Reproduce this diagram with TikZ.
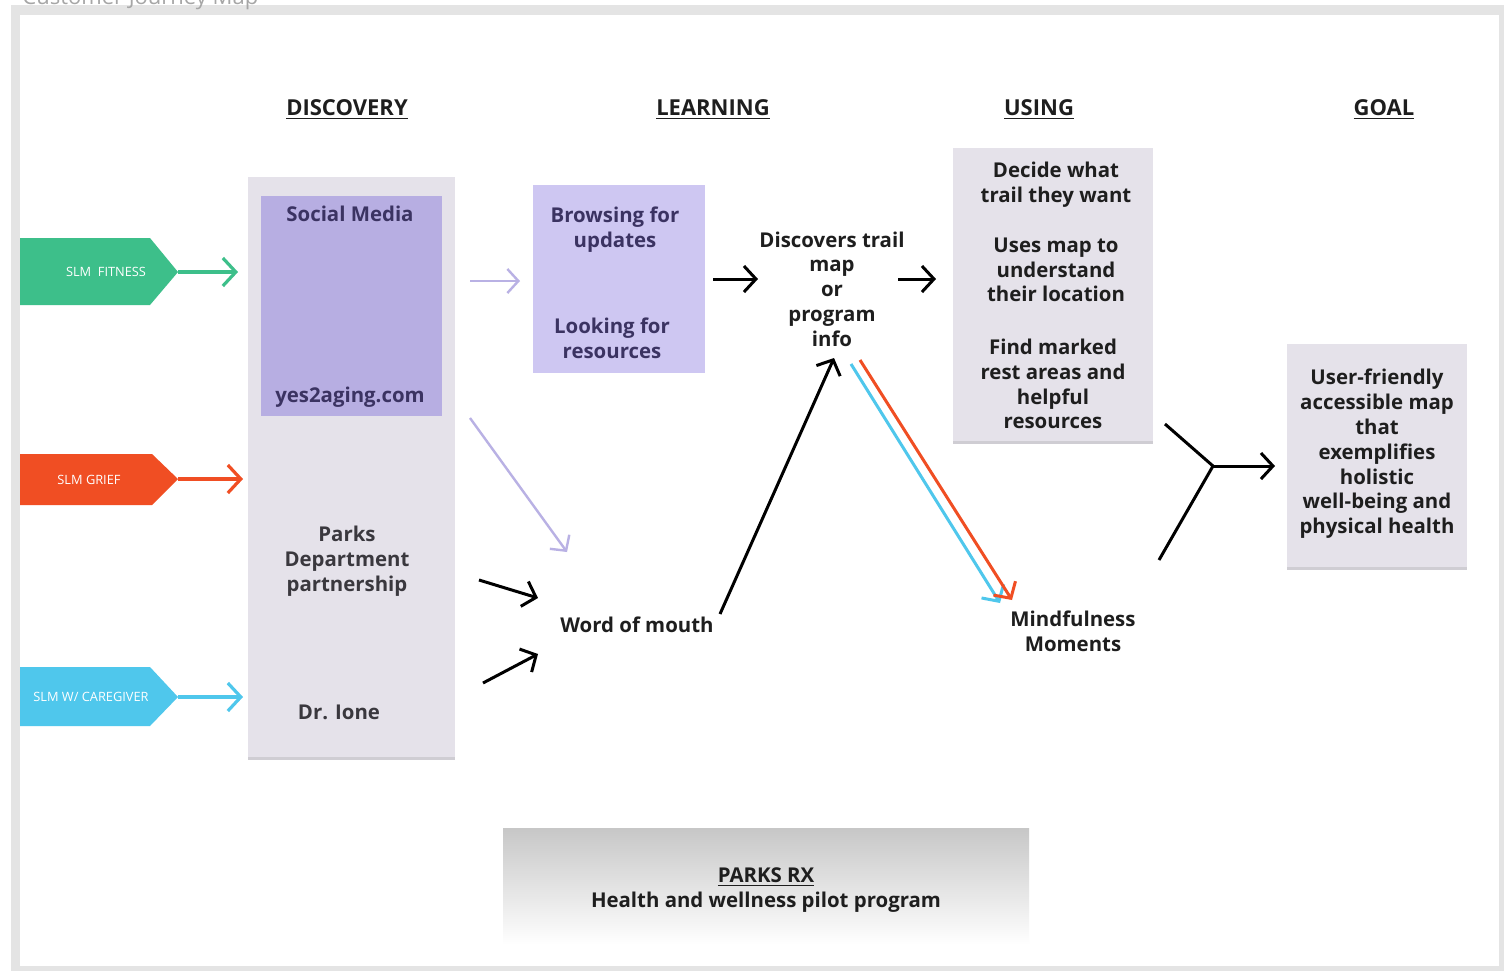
\documentclass[tikz,border=0pt]{standalone}
\usepackage{fontspec}
\setmainfont{Open Sans}
\usetikzlibrary{arrows.meta}

\definecolor{framegray}{HTML}{E4E4E4}
\definecolor{panel}{HTML}{E5E2EA}
\definecolor{panelshadow}{HTML}{CFCDD3}
\definecolor{mediapurple}{HTML}{B7AEE2}
\definecolor{learnpurple}{HTML}{CEC7F2}
\definecolor{lightarrow}{HTML}{B9B1E4}
\definecolor{fitgreen}{HTML}{3DBF8A}
\definecolor{griefred}{HTML}{F04E23}
\definecolor{careblue}{HTML}{4FC7EC}
\definecolor{inkdark}{HTML}{1E1E1E}
\definecolor{inkpurple}{HTML}{3B3362}
\definecolor{inkgray}{HTML}{3A383E}

\tikzset{
  lbl/.style={font=\bfseries\fontsize{10.2}{12.4}\selectfont, text=inkdark, align=center, inner sep=0pt},
  head/.style={font=\bfseries\fontsize{11}{12}\selectfont, text=inkdark, inner sep=0pt},
  taglbl/.style={font=\fontsize{6.4}{7}\selectfont, text=white, inner sep=0pt},
  flow/.style={line width=1.5pt, -{Straight Barb[length=6pt,width=13pt,line width=1.5pt]}},
  tagflow/.style={line width=1.6pt, -{Straight Barb[length=6.5pt,width=14pt,line width=1.6pt]}},
  thin/.style={line width=1.2pt, -{Straight Barb[length=5.5pt,width=12pt,line width=1.2pt]}},
}

\begin{document}
\begin{tikzpicture}[x=0.5pt,y=-0.5pt]
\useasboundingbox (0,0) rectangle (1511,971);

% page frame
\fill[white] (0,0) rectangle (1511,971);
\fill[framegray] (11,5) rectangle (1504,971);
\fill[white] (20,15) rectangle (1499,966);
\node[anchor=base west, inner sep=0pt, text=gray!70, font=\fontsize{11}{12}\selectfont] (title) at (22,4) {Customer Journey Map};

% column headings
\node[head] (hdisc) at (347,110) {\underline{DISCOVERY}};
\node[head] (hlearn) at (713,110) {\underline{LEARNING}};
\node[head] (huse) at (1039,110) {\underline{USING}};
\node[head] (hgoal) at (1384,110) {\underline{GOAL}};

% entry tags
\fill[fitgreen] (20,238) -- (150,238) -- (178,272) -- (150,305) -- (20,305) -- cycle;
\node[taglbl] (fit) at (106,272) {SLM\ \ FITNESS};
\coordinate (fitTip) at (178,272);
\coordinate (fitEnd) at (238,272);
\draw[tagflow, fitgreen] (fitTip) -- (fitEnd);

\fill[griefred] (20,454) -- (152,454) -- (178,479) -- (152,505) -- (20,505) -- cycle;
\node[taglbl] (grief) at (89,480) {SLM GRIEF};
\coordinate (griefTip) at (178,479);
\coordinate (griefEnd) at (243,479);
\draw[tagflow, griefred] (griefTip) -- (griefEnd);

\fill[careblue] (20,667) -- (150,667) -- (178,697) -- (150,726) -- (20,726) -- cycle;
\node[taglbl] (care) at (91,697) {SLM W/ CAREGIVER};
\coordinate (careTip) at (178,697);
\coordinate (careEnd) at (243,697);
\draw[tagflow, careblue] (careTip) -- (careEnd);

% discovery column
\fill[panelshadow] (248,180) rectangle (455,760);
\fill[panel] (248,177) rectangle (455,757);
\fill[mediapurple] (261,196) rectangle (442,416);
\node[lbl, text=inkpurple] (social) at (350,214) {Social Media};
\node[lbl, text=inkpurple] (yes) at (350,397) {yes2aging.com};
\node[lbl, text=inkgray] (parks) at (347,561) {Parks\\Department\\partnership};
\node[lbl, text=inkgray] (ione) at (339,712) {Dr. Ione};

% learning box
\fill[learnpurple] (533,185) rectangle (705,373);
\node[lbl, text=inkpurple] (browse) at (615,230) {Browsing for\\updates};
\node[lbl, text=inkpurple] (look) at (612,338) {Looking for\\resources};

% middle nodes
\node[lbl] (trail) at (832,289) {Discovers trail\\map\\or\\program\\info};
\node[lbl] (word) at (637,625) {Word of mouth};
\node[lbl] (mind) at (1073,631) {Mindfulness\\Moments};

% using box
\fill[panelshadow] (953,151) rectangle (1153,444);
\fill[panel] (953,148) rectangle (1153,441);
\node[lbl] (decide) at (1056,185) {Decide what\\trail they want};
\node[lbl] (usesmap) at (1056,270) {Uses map to\\understand\\their location};
\node[lbl] (findrest) at (1053,384) {Find marked\\rest areas and\\helpful\\resources};

% goal box
\fill[panelshadow] (1287,347) rectangle (1467,570);
\fill[panel] (1287,344) rectangle (1467,567);
\node[lbl] (goal) at (1377,454) {User-friendly\\accessible map\\that\\exemplifies\\holistic\\well-being and\\physical health};

% program banner
\shade[top color=black!22, bottom color=white] (503,828) rectangle (1029,945);
\node[lbl] (rx) at (766,890) {\underline{PARKS RX}\\Health and wellness pilot program};

% connectors
\coordinate (mediaOut) at (470,281);
\coordinate (learnIn) at (520,281);
\draw[thin, lightarrow] (mediaOut) -- (learnIn);
\coordinate (mediaDown) at (470,418);
\coordinate (wordTop) at (567,552);
\draw[thin, lightarrow] (mediaDown) -- (wordTop);

\coordinate (learnOut) at (713,279);
\coordinate (trailIn) at (758,279);
\draw[flow] (learnOut) -- (trailIn);
\coordinate (trailOut) at (898,279);
\coordinate (useIn) at (936,279);
\draw[flow] (trailOut) -- (useIn);

\coordinate (parksOut) at (479,580);
\coordinate (wordInA) at (538,598);
\draw[flow] (parksOut) -- (wordInA);
\coordinate (ioneOut) at (483,683);
\coordinate (wordInB) at (538,654);
\draw[flow] (ioneOut) -- (wordInB);

\coordinate (wordOut) at (720,614);
\coordinate (trailBottom) at (834,358);
\draw[flow] (wordOut) -- (trailBottom);

\coordinate (blueStart) at (851,364);
\coordinate (blueEnd) at (1000,603);
\draw[flow, careblue] (blueStart) -- (blueEnd);
\coordinate (redStart) at (860,360);
\coordinate (redEnd) at (1012,600);
\draw[flow, griefred] (redStart) -- (redEnd);

\coordinate (useOut) at (1165,424);
\coordinate (mindOut) at (1159,560);
\coordinate (join) at (1213,466);
\coordinate (goalIn) at (1275,466);
\draw[line width=1.5pt] (useOut) -- (join) -- (mindOut);
\draw[flow] (join) -- (goalIn);

\end{tikzpicture}
\end{document}
